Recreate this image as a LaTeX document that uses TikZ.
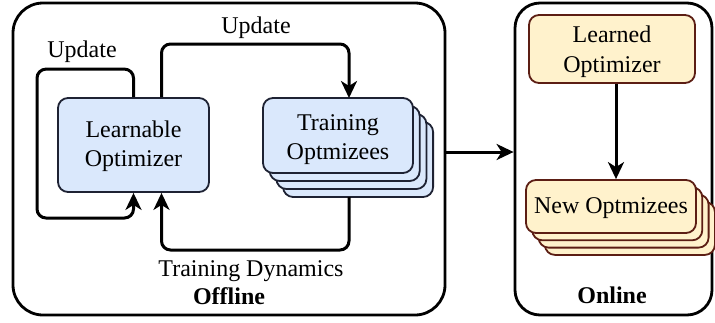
\documentclass[tikz,border=0pt]{standalone}
\usepackage{fontspec}
\setmainfont{Liberation Serif}
\usetikzlibrary{arrows.meta,calc}

\definecolor{bluefill}{HTML}{DAE8FC}
\definecolor{blueline}{HTML}{1E2233}
\definecolor{yellowfill}{HTML}{FFF2CC}
\definecolor{yellowline}{HTML}{5C1E14}

\tikzset{
  txt/.style={font=\fontsize{24}{29}\selectfont},
  panel/.style={draw=black, line width=2.8pt, rounded corners=#1},
  optbox/.style={draw=blueline, fill=bluefill, line width=1.8pt, rounded corners=10pt,
    inner sep=0pt},
  newbox/.style={draw=yellowline, fill=yellowfill, line width=1.8pt, rounded corners=10pt,
    inner sep=0pt},
  lbl/.style={txt, inner sep=0pt, anchor=base},
  flow/.style={line width=3pt, rounded corners=9pt,
    -{Stealth[length=17pt,width=16pt,inset=5pt]}},
}

\begin{document}
\begin{tikzpicture}[x=1pt,y=-1pt]
\useasboundingbox (0,0) rectangle (715,322);

% the two panels
\node[panel=30pt, minimum width=432pt, minimum height=312pt, inner sep=0pt] (off) at (229,159) {};
\node[panel=25pt, minimum width=197pt, minimum height=312pt, inner sep=0pt] (on) at (613.5,159) {};

% offline: learnable optimizer
\node[optbox, minimum width=151pt, minimum height=94pt] (lo) at (133.5,145) {};
\node[lbl] (lo1) at (133.5,137) {Learnable};
\node[lbl] (lo2) at (133.5,166) {Optimizer};

% offline: stack of training optimizees (back to front)
\foreach \k in {3,2,1} {
  \node[optbox, minimum width=150pt, minimum height=75pt] (to\k) at ({338+6.7*\k},{135.5+8*\k}) {};
}
\node[optbox, minimum width=150pt, minimum height=75pt] (to) at (338,135.5) {};
\node[lbl] (to1) at (338,130) {Training};
\node[lbl] (to2) at (338,159) {Optmizees};

% online: learned optimizer
\node[newbox, minimum width=166pt, minimum height=68pt] (ld) at (612,49) {};
\node[lbl] (ld1) at (612,42) {Learned};
\node[lbl] (ld2) at (612,72) {Optimizer};

% online: stack of new optimizees (back to front)
\foreach \k in {3,2,1} {
  \node[newbox, minimum width=170pt, minimum height=53pt] (no\k) at ({611+6.3*\k},{206.5+7.3*\k}) {};
}
\node[newbox, minimum width=170pt, minimum height=53pt] (no) at (611,206.5) {};
\node[lbl] (no1) at (611,213) {New Optmizees};

% connectors
\coordinate (loA) at ($(lo.north)+(28,0)$);
\coordinate (loB) at ($(lo.south)+(28,0)$);
\coordinate (toT) at (349,98);
\coordinate (toB) at (349,197);

\draw[flow] (lo.north) -- ++(0,-28) -| (37,218) -| (lo.south);
\draw[flow] (loA) |- (toT |- 0,44) -- (toT);
\draw[flow] (toB) -- (toB |- 0,250) -| (loB);
\coordinate (offR) at ($(off.east)+(0,-7)$);
\draw[flow] (offR) -- (on.west |- offR);
\draw[flow] (ld.south -| 616,0) -- (no.north -| 616,0);

% labels
\node[lbl] (u1) at (82,57) {Update};
\node[lbl] (u2) at (256,33) {Update};
\node[lbl] (td) at (251,276) {Training Dynamics};
\node[lbl, font=\fontsize{24}{29}\selectfont\bfseries] (offl) at (229,304) {Offline};
\node[lbl, font=\fontsize{24}{29}\selectfont\bfseries] (onl) at (612,303) {Online};
\end{tikzpicture}
\end{document}
